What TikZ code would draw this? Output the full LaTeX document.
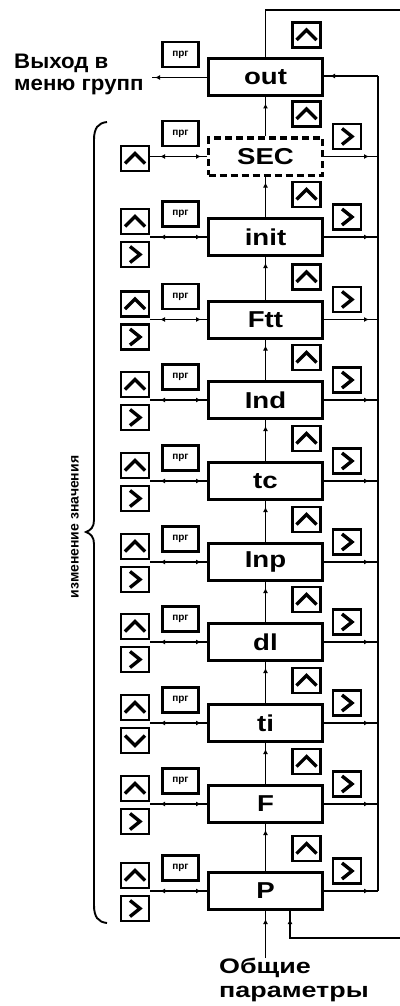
\documentclass[tikz,border=0pt]{standalone}
\usepackage{fontspec}
\setmainfont{Liberation Sans}
\newfontfamily\wideA[FakeStretch=1.2]{Liberation Sans}
\newfontfamily\wideB[FakeStretch=1.06]{Liberation Sans}
\newfontfamily\wideC[FakeStretch=1.28]{Liberation Sans}
\usetikzlibrary{arrows.meta,decorations.markings}
\begin{document}
\begin{tikzpicture}[x=1pt,y=-1pt,
  blk/.style={draw, line width=3pt, minimum width=114pt, minimum height=37pt, inner sep=0pt,
    font=\wideA\fontsize{23}{23}\selectfont\bfseries},
  secdash/.style={dash pattern=on 7pt off 4pt},
  conn/.style={line width=1.9pt},
  tipend/.style={postaction={decorate},decoration={markings,
    mark=at position #1 with {\arrow{Latex[length=5pt,width=5pt]}}}},
  bitip/.style={postaction={decorate},decoration={markings,
    mark=at position 6pt with {\arrowreversed{Latex[length=5pt,width=5pt]}},
    mark=at position -10pt with {\arrow{Latex[length=5pt,width=5pt]}}}},
  key/.style={draw, line width=2.1pt, minimum width=28pt, minimum height=25pt, inner sep=0pt},
  upkey/.style={key, path picture={\draw[line width=3.2pt,miter limit=4,
      shift={(path picture bounding box.center)}] (-10,5) -- (0,-5) -- (10,5);}},
  rtkey/.style={key, path picture={\draw[line width=3.4pt,miter limit=4,
      shift={(path picture bounding box.center)}] (-5,-8) -- (5,0) -- (-5,8);}},
  dnkey/.style={key, path picture={\draw[line width=3.2pt,miter limit=4,
      shift={(path picture bounding box.center)}] (-10,-5) -- (0,5) -- (10,-5);}},
  prg/.style={draw, line width=2.1pt, minimum width=36pt, minimum height=25pt, inner sep=0pt,
    font=\fontsize{10}{10}\selectfont\bfseries},
]
\useasboundingbox (0,0) rectangle (399,1006);

% main boxes
\foreach \i/\lab/\st/\cy in {0/out/solid/77.5,1/SEC/secdash/156.5,2/init/solid/237,
  3/Ftt/solid/319.5,4/Ind/solid/400,5/tc/solid/481,6/Inp/solid/562,7/dl/solid/642,
  8/ti/solid/723,9/F/solid/804,10/P/solid/891}{
  \node[blk,\st] (n\i) at (265.5,\cy) {\lab};
  \node[upkey] (u\i) at (306.5,\cy-42.5) {};
  \node[prg] (g\i) at (180.5,\cy-23) {прг};
}

% right keys and left keys
\foreach \i/\cy in {1/156.5,2/237,3/319.5,4/400,5/481,6/562,7/642,8/723,9/804,10/891}{
  \node[rtkey] (r\i) at (347,\cy-20) {};
}
\node[upkey] (l1) at (135,158.5) {};
\foreach \i/\cy in {2/237,3/319.5,4/400,5/481,6/562,7/642,8/723,9/804,10/891}{
  \node[upkey] (l\i) at (135,\cy-15.5) {};
}
\foreach \i/\cy in {2/237,3/319.5,4/400,5/481,6/562,7/642,9/804,10/891}{
  \node[rtkey] (m\i) at (135,\cy+17.5) {};
}
\node[dnkey] (m8) at (135,740.5) {};

% vertical connectors
\foreach \i in {1,...,10}{
  \pgfmathtruncatemacro\j{\i-1}
  \draw[conn,tipend=-6pt] (n\i.north) -- (n\j.south);
}

% right bus
\coordinate (bus) at (378,0);
\foreach \i in {1,...,10}{
  \draw[conn,tipend=-9pt] (n\i.east) -- (n\i.east -| bus);
}
\draw[conn] (n10.east -| bus) -- ([yshift=1.5pt]n0.east -| bus);
\draw[conn,tipend=-6pt] ([yshift=1.5pt]n0.east -| bus) -- ([yshift=1.5pt]n0.east);

% left connections
\foreach \i in {1,...,10}{
  \draw[conn,bitip] (n\i.west) -- (n\i.west -| l\i.east);
}

% exit label
\node[inner sep=0pt, align=left, anchor=north west, font=\wideB\fontsize{21}{22}\selectfont\bfseries]
  (exit) at (14,54) {Выход в\\меню групп};
\draw[conn,tipend=-3pt] (n0.west) -- (n0.west -| 152,0);

% top loop
\coordinate (looptop) at (400,10);
\draw[conn] (n0.north) |- (looptop);

% bottom loop and common params
\coordinate (loopbot) at (400,938);
\draw[conn,tipend=-8pt] (loopbot) -| ([xshift=24.5pt]n10.south);
\node[inner sep=0pt, align=left, anchor=north west, font=\wideC\fontsize{21}{24}\selectfont\bfseries]
  (gen) at (219,958) {Общие\\параметры};
\draw[conn,tipend=-8pt] (n10.south |- gen.north) -- (n10.south);

% brace and its text
\draw[line width=1.9pt] (107,122) .. controls (98,123) and (94,128) .. (94,140)
  -- (94,520) .. controls (94,527) and (91,530) .. (86,532)
  .. controls (91,534) and (94,537) .. (94,544)
  -- (94,905) .. controls (94,917) and (98,922) .. (107,923);
\node[rotate=90, inner sep=0pt, font=\fontsize{14}{14}\selectfont\bfseries] (vt) at (75,527) {изменение значения};
\end{tikzpicture}
\end{document}
